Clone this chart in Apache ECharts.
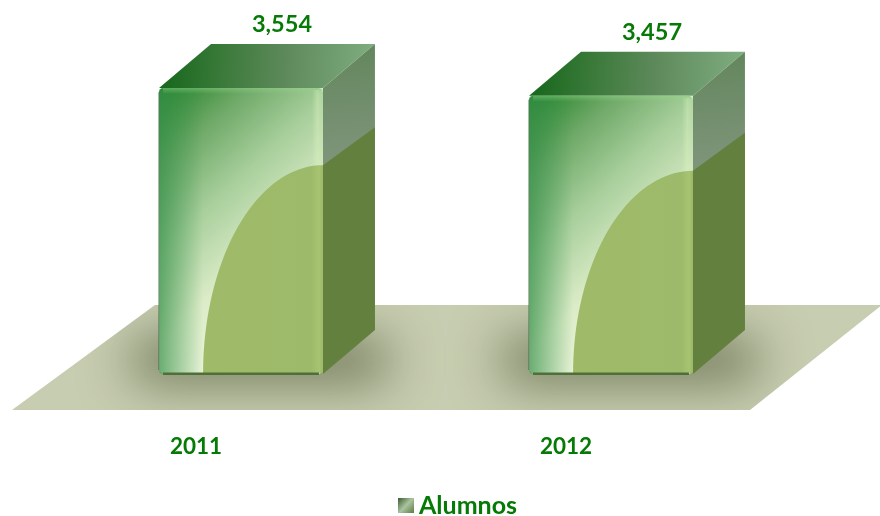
<!DOCTYPE html>
<html><head><meta charset="utf-8">
<style>html,body{margin:0;background:#fff}#c{width:880px;height:516px}</style>
<script src="https://cdn.jsdelivr.net/npm/echarts@6/dist/echarts.min.js"></script>
</head><body><div id="c"></div>
<script>
const categories = ['2011', '2012'];
const alumnos = [3554, 3457];
const seriesName = 'Alumnos';
const GREEN = '#067a06';
const FONT = 'Lato, "Open Sans", sans-serif';

function lg(x2, y2, stops) {
  return new echarts.graphic.LinearGradient(0, 0, x2, y2, stops.map((c, i) => ({offset: c[0], color: c[1]})));
}
const chart = echarts.init(document.getElementById('c'), null, {renderer: 'canvas'});

function floorPoints(g, by) {
  return [[g.x - 44, by + 36], [g.x + 694, by + 36], [g.x + 826, by - 69], [g.x + 99, by - 69]];
}
function floorItem(params, api) {
  const by = api.coord([0, 0])[1];
  return {type: 'polygon', shape: {points: floorPoints(params.coordSys, by)}, style: {fill: '#c7cdb0'}};
}
function shadowItem(params, api) {
  const c = api.coord([api.value(0), 0]);
  const far = 3000;
  return {type: 'rect', shape: {x: c[0] - 112 - far, y: c[1] - 38, width: 262, height: 48, r: 24},
    style: {fill: '#000', shadowColor: 'rgba(112,120,88,0.95)', shadowBlur: 50, shadowOffsetX: far},
    clipPath: {type: 'polygon', shape: {points: floorPoints(params.coordSys, c[1]).map(p => [p[0] - far * 0, p[1]])}}};
}
function barItem(params, api) {
  const v = api.value(1);
  const c = api.coord([api.value(0), v]);
  const base = api.coord([api.value(0), 0]);
  const w = api.size([1, 0])[0] * 0.443;
  const L = c[0] - w / 2, R = c[0] + w / 2, T = c[1], B = base[1];
  const dx = 52, dy = 44;
  const arcTop = T + (B - T) * 0.27;
  const arcLeft = L + 44;
  const arc = [];
  for (let i = 0; i <= 40; i++) {
    const a = i / 40 * Math.PI / 2;
    arc.push([R - (R - arcLeft) * Math.cos(a), B - (B - arcTop) * Math.sin(a)]);
  }
  return {type: 'group', children: [
    // top face
    {type: 'polygon', shape: {points: [[L, T], [L + dx, T - dy], [R + dx, T - dy], [R, T]]},
     style: {fill: lg(1, 0.25, [[0, '#14661a'], [0.3, '#3b7a3a'], [0.6, '#5f8a5c'], [1, '#7fae80']])}},
    // right face, upper part
    {type: 'polygon', shape: {points: [[R, T], [R + dx, T - dy], [R + dx, B - dy - 1], [R, B]]},
     style: {fill: lg(0.6, 1, [[0, '#62865c'], [0.5, '#8a9a86'], [1, '#95a290']])}},
    // right face, lower part
    {type: 'polygon', shape: {points: [[R, arcTop], [R + dx, arcTop - 38], [R + dx, B - dy], [R, B]]},
     style: {fill: '#63803e'}},
    // front face
    {type: 'rect', shape: {x: L, y: T, width: w, height: B - T, r: 5},
     style: {fill: lg(1, 0.62, [[0, '#1f7f24'], [0.25, '#6fa968'], [0.5, '#a8cf9c'], [0.78, '#dcecc8'], [1, '#e8f3d8']])}},
    {type: 'rect', shape: {x: L, y: T, width: 44, height: B - T, r: 4},
     style: {fill: lg(1, 0, [[0, 'rgba(55,145,75,0.7)'], [1, 'rgba(60,150,80,0)']])}},
    // light band on the right and top of the front face
    {type: 'rect', shape: {x: R - 11, y: T + 2, width: 11, height: arcTop - T - 2},
     style: {fill: lg(1, 0, [[0, 'rgba(220,245,190,0)'], [0.5, 'rgba(220,245,190,0.4)'], [1, 'rgba(220,245,190,0.15)']])}},
    {type: 'rect', shape: {x: L + 4, y: T, width: w - 4, height: 6},
     style: {fill: lg(0, 1, [[0, 'rgba(150,215,140,0.45)'], [1, 'rgba(150,215,140,0)']])}},
    // olive reflection
    {type: 'polygon', shape: {points: arc.concat([[R, B - 1], [arcLeft, B - 1]])},
     style: {fill: lg(1, 0, [[0, '#9fbb69'], [0.9, '#9dba6a'], [0.97, '#a6c472'], [1, '#9ab566']])}},
    // bottom rim
    {type: 'rect', shape: {x: L + 4, y: B - 1.5, width: w - 8, height: 2.5},
     style: {fill: '#4f6f38'}},
    {type: 'rect', shape: {x: L - 1, y: T + 4, width: 1.2, height: B - T - 8},
     style: {fill: 'rgba(70,90,70,0.45)'}},
    // value label
    {type: 'text', x: c[0] + 41, y: T - 63,
     style: {text: echarts.format.addCommas(v), fill: GREEN, font: 'bold 23.5px ' + FONT, align: 'center', verticalAlign: 'middle'}}
  ]};
}

const rows = categories.map((c, i) => [c, alumnos[i]]);
chart.setOption({
  animation: false,
  backgroundColor: '#fff',
  grid: {left: 56, top: 52, width: 740, height: 322},
  xAxis: {type: 'category', data: categories, axisLine: {show: false}, axisTick: {show: false},
    axisLabel: {color: GREEN, fontFamily: FONT, fontWeight: 'bold', fontSize: 22.5, margin: 61, padding: [0, 90, 0, 0]}},
  yAxis: {type: 'value', min: 0, max: 4000, show: false},
  legend: {data: [{name: seriesName, icon: 'rect',
      itemStyle: {color: lg(1, 1, [[0, '#3c5a30'], [0.5, '#a9c4a0'], [1, '#5d7a40']])}}],
    left: 398, top: 493, itemWidth: 16, itemHeight: 15, itemGap: 5, selectedMode: false, padding: 0,
    textStyle: {color: GREEN, fontFamily: FONT, fontWeight: 'bold', fontSize: 25}},
  series: [
    {type: 'custom', name: 'floor', data: [[categories[0], 0]], renderItem: floorItem, silent: true, z: 1, encode: {x: 0, y: 1}},
    {type: 'custom', name: 'shadow', data: rows, renderItem: shadowItem, silent: true, z: 2, encode: {x: 0, y: 1}},
    {type: 'custom', name: seriesName, data: rows, renderItem: barItem, z: 3, encode: {x: 0, y: 1}}
  ]
});
</script></body></html>
